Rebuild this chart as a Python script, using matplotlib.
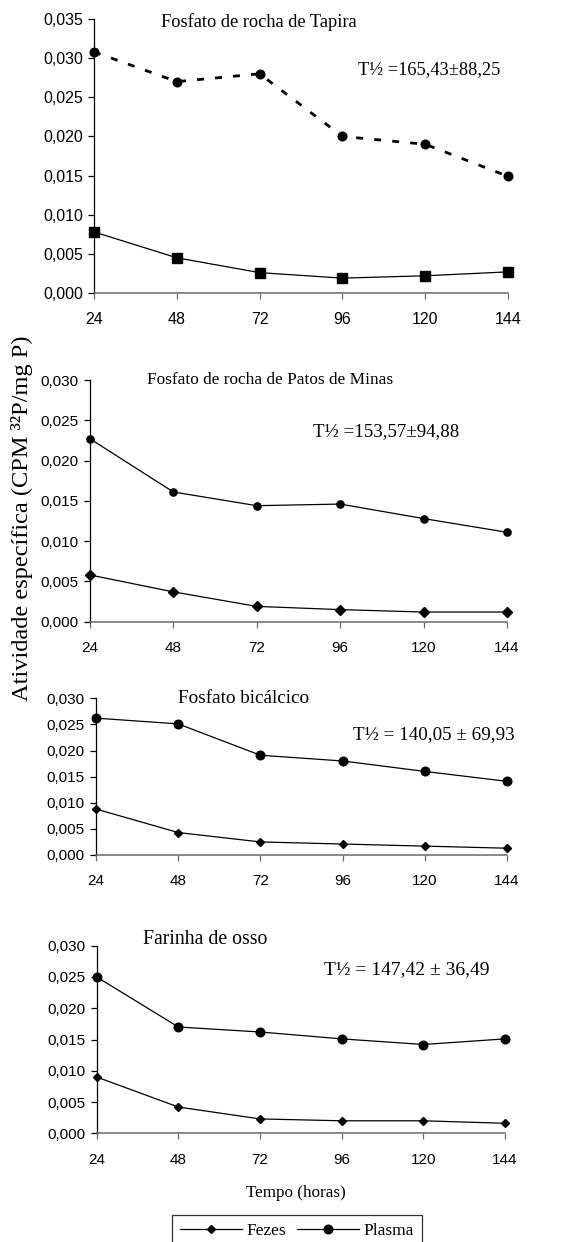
import matplotlib
matplotlib.use("Agg")
import matplotlib.pyplot as plt
from matplotlib.ticker import FuncFormatter
from matplotlib.lines import Line2D

plt.rcParams['lines.scale_dashes'] = False

hours = [24, 48, 72, 96, 120, 144]

titles = ["Fosfato de rocha de Tapira",
          "Fosfato de rocha de Patos de Minas",
          "Fosfato bicálcico",
          "Farinha de osso"]
half_life = ["T½ =165,43±88,25",
             "T½ =153,57±94,88",
             "T½ = 140,05 ± 69,93",
             "T½ = 147,42 ± 36,49"]

fezes_tapira = [0.0078, 0.0045, 0.0026, 0.0019, 0.0022, 0.0027]
plasma_tapira = [0.0308, 0.0270, 0.0280, 0.0200, 0.0190, 0.0149]

fezes_patos = [0.0058, 0.0037, 0.0019, 0.0015, 0.0012, 0.0012]
plasma_patos = [0.0227, 0.0161, 0.0144, 0.0146, 0.0128, 0.0111]

fezes_bical = [0.0088, 0.0043, 0.0025, 0.0021, 0.0017, 0.0013]
plasma_bical = [0.0262, 0.0251, 0.0191, 0.0180, 0.0160, 0.0141]

fezes_osso = [0.0090, 0.0042, 0.0023, 0.0020, 0.0020, 0.0016]
plasma_osso = [0.0250, 0.0170, 0.0162, 0.0151, 0.0142, 0.0151]

y_max = [0.035, 0.030, 0.030, 0.030]

W, H = 566, 1242
fig = plt.figure(figsize=(W / 100, H / 100), dpi=100)

def px_axes(x0, x1, ytop, ybot):
    return fig.add_axes([x0 / W, 1 - ybot / H, (x1 - x0) / W, (ybot - ytop) / H])

SERIF = ['Liberation Serif', 'DejaVu Serif']
SANS = ['Liberation Sans', 'DejaVu Sans']

boxes = [(94, 508, 19, 293), (90, 507, 380, 621.7), (96, 507, 698.3, 855), (96.7, 505, 945.7, 1133.3)]
tick_fs = [11.5, 11, 11, 11]
title_fs = [13.2, 12.4, 13.8, 14.2]
t_fs = [13.2, 13.6, 13.7, 14]
title_pos = [(259, 22), (270, 380), (244, 698), (205, 940)]
t_pos = [(429, 70), (386, 432), (434, 735), (407, 970)]

fezes_all = [fezes_tapira, fezes_patos, fezes_bical, fezes_osso]
plasma_all = [plasma_tapira, plasma_patos, plasma_bical, plasma_osso]

fmt = FuncFormatter(lambda v, p: f"{v:.3f}".replace('.', ','))

for i in range(4):
    ax = px_axes(*boxes[i])
    if i == 0:
        ax.plot(hours, fezes_all[i], color='black', lw=0.9, marker='s', ms=6.5,
                clip_on=False, zorder=3)
        ax.plot(hours, plasma_all[i], color='black', lw=2.0, ls=(0, (5, 8)),
                marker='o', ms=6.2, clip_on=False, zorder=3)
    else:
        ax.plot(hours, fezes_all[i], color='black', lw=0.9, marker='D',
                ms=4.6 if i == 1 else 4.2, clip_on=False, zorder=3)
        ax.plot(hours, plasma_all[i], color='black', lw=0.9, marker='o',
                ms=5.2 if i == 1 else 6.2, clip_on=False, zorder=3)
    ax.set_xlim(24, 144)
    ax.set_ylim(0, y_max[i])
    ax.set_xticks(hours)
    ax.set_yticks([k * 0.005 for k in range(int(round(y_max[i] / 0.005)) + 1)])
    ax.yaxis.set_major_formatter(fmt)
    for s in ['top', 'right']:
        ax.spines[s].set_visible(False)
    ax.spines['left'].set_color('black')
    ax.spines['left'].set_linewidth(0.9)
    ax.spines['bottom'].set_color('#6a6a6a')
    ax.spines['bottom'].set_linewidth(1.1)
    ax.tick_params(axis='y', direction='out', length=4, width=0.9, color='black',
                   labelsize=tick_fs[i], pad=4)
    ax.tick_params(axis='x', direction='out', length=4, width=0.9, color='#6a6a6a',
                   labelsize=tick_fs[i], pad=10)
    for lab in ax.get_xticklabels() + ax.get_yticklabels():
        lab.set_fontfamily(SANS)
    ax.patch.set_visible(False)
    fig.text(title_pos[i][0] / W, 1 - title_pos[i][1] / H, titles[i],
             family=SERIF, fontsize=title_fs[i], ha='center', va='center')
    fig.text(t_pos[i][0] / W, 1 - t_pos[i][1] / H, half_life[i],
             family=SERIF, fontsize=t_fs[i], ha='center', va='center')

fig.text(22 / W, 1 - 518 / H, "Atividade específica (CPM ³²P/mg P)", family=SERIF,
         fontsize=17.6, rotation=90, ha='center', va='center')
fig.text(296 / W, 1 - 1193 / H, "Tempo (horas)", family=SERIF, fontsize=12.3,
         ha='center', va='center')

handles = [Line2D([], [], color='black', lw=0.9, marker='D', ms=4.2),
           Line2D([], [], color='black', lw=0.9, marker='o', ms=6.2)]
leg = fig.legend(handles, ["Fezes", "Plasma"], loc='upper left',
                 bbox_to_anchor=(172 / W, 1 - 1215 / H), ncol=2, frameon=True,
                 fancybox=False, edgecolor='black', handlelength=3.6,
                 handletextpad=0.25, columnspacing=0.6, borderpad=0.45,
                 borderaxespad=0.0,
                 prop={'family': SERIF, 'size': 12.5})
leg.get_frame().set_linewidth(0.9)

fig.savefig("out.png", dpi=100)
